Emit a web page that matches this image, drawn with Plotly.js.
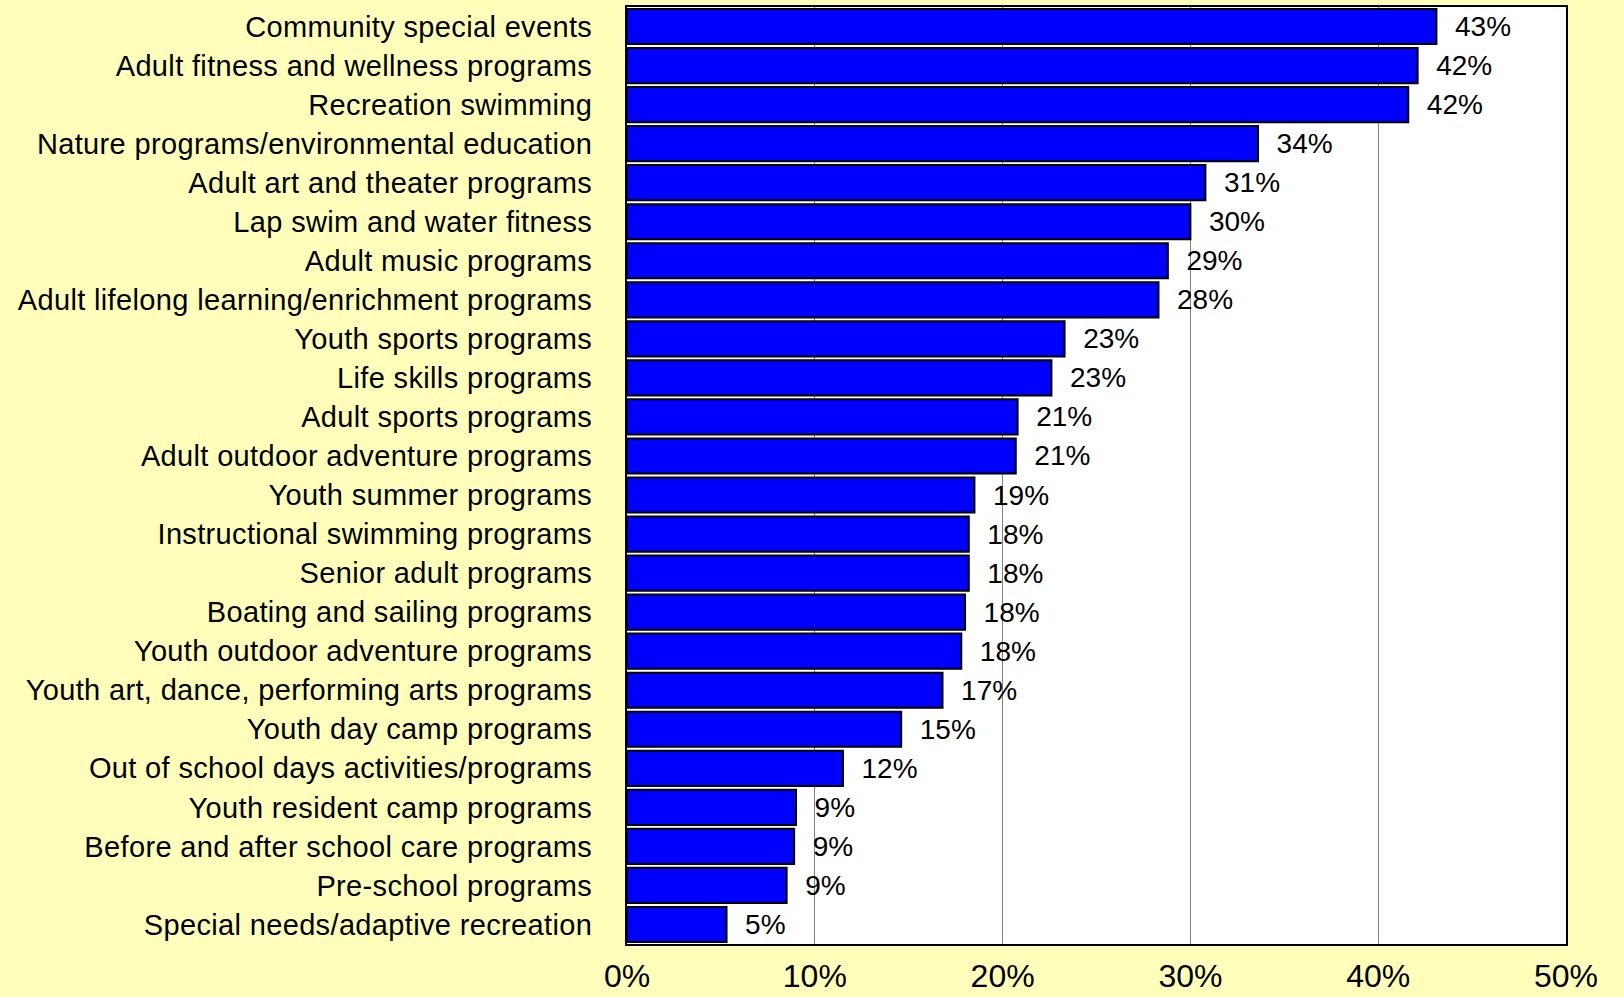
<!DOCTYPE html>
<html>
<head>
<meta charset="utf-8">
<script src="https://cdn.plot.ly/plotly-3.0.1.min.js"></script>
<style>
  html, body { margin: 0; padding: 0; background: #FFFFBB; }
  #chart { width: 1624px; height: 997px; }
  #chart .ytick text { letter-spacing: 0.35px; }
</style>
</head>
<body>
<div id="chart"></div>
<script>
const categories = [
  "Community special events",
  "Adult fitness and wellness programs",
  "Recreation swimming",
  "Nature programs/environmental education",
  "Adult art and theater programs",
  "Lap swim and water fitness",
  "Adult music programs",
  "Adult lifelong learning/enrichment programs",
  "Youth sports programs",
  "Life skills programs",
  "Adult sports programs",
  "Adult outdoor adventure programs",
  "Youth summer programs",
  "Instructional swimming programs",
  "Senior adult programs",
  "Boating and sailing programs",
  "Youth outdoor adventure programs",
  "Youth art, dance, performing arts programs",
  "Youth day camp programs",
  "Out of school days activities/programs",
  "Youth resident camp programs",
  "Before and after school care programs",
  "Pre-school programs",
  "Special needs/adaptive recreation"
];
const values = [
  0.431, 0.421, 0.416, 0.336, 0.308, 0.300, 0.288, 0.283,
  0.233, 0.226, 0.208, 0.207, 0.185, 0.182, 0.182, 0.180,
  0.178, 0.168, 0.146, 0.115, 0.090, 0.089, 0.085, 0.053
];
const tickVals = [0, 0.1, 0.2, 0.3, 0.4, 0.5];
const tickText = ["0%", "10%", "20%", "30%", "40%", "50%"];

const trace = {
  type: "bar",
  orientation: "h",
  x: values,
  y: categories,
  marker: { color: "#0000FF", line: { color: "#000000", width: 2 } },
  texttemplate: "  %{x:.0%}",
  textposition: "outside",
  cliponaxis: false,
  textfont: { family: "Liberation Sans, Arial, sans-serif", size: 28, color: "#000000" },
  hoverinfo: "skip"
};

const layout = {
  width: 1624,
  height: 997,
  paper_bgcolor: "#FFFFBB",
  plot_bgcolor: "#FFFFFF",
  margin: { l: 627, r: 58, t: 7, b: 53, pad: 0 },
  bargap: 0.1,
  showlegend: false,
  font: { family: "Liberation Sans, Arial, sans-serif", color: "#000000" },
  xaxis: {
    range: [0, 0.5],
    tickvals: tickVals,
    ticktext: tickText,
    tickfont: { size: 32, color: "#000000" },
    ticks: "outside",
    ticklen: 3,
    tickcolor: "rgba(0,0,0,0)",
    showgrid: true,
    gridcolor: "#808080",
    gridwidth: 1,
    zeroline: false,
    showline: true,
    linecolor: "#000000",
    linewidth: 2,
    mirror: true,
    automargin: false,
    fixedrange: true
  },
  yaxis: {
    autorange: "reversed",
    tickfont: { size: 29, color: "#000000" },
    ticks: "outside",
    ticklen: 27,
    tickcolor: "rgba(0,0,0,0)",
    showgrid: false,
    zeroline: false,
    showline: true,
    linecolor: "#000000",
    linewidth: 2,
    mirror: true,
    automargin: false,
    fixedrange: true
  }
};

Plotly.newPlot("chart", [trace], layout, { displayModeBar: false, staticPlot: true });
</script>
</body>
</html>
